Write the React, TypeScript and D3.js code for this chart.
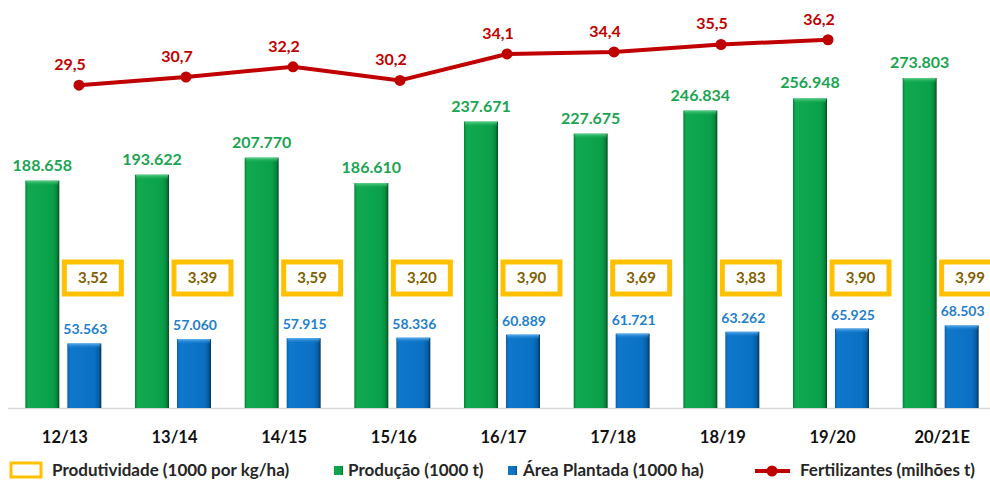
import React from "react";
import * as d3 from "d3";

const categories = ["12/13", "13/14", "14/15", "15/16", "16/17", "17/18", "18/19", "19/20", "20/21E"];
const producao = [188.658, 193.622, 207.77, 186.61, 237.671, 227.675, 246.834, 256.948, 273.803];
const area = [53.563, 57.06, 57.915, 58.336, 60.889, 61.721, 63.262, 65.925, 68.503];
const produtividade = [3.52, 3.39, 3.59, 3.2, 3.9, 3.69, 3.83, 3.9, 3.99];
const fertilizantes = [29.5, 30.7, 32.2, 30.2, 34.1, 34.4, 35.5, 36.2];

const W = 990;
const H = 482;
const FONT = "Lato, 'Open Sans', sans-serif";

const fmtThousand = (v: number) => v.toFixed(3);
const fmtComma1 = (v: number) => v.toFixed(1).replace(".", ",");
const fmtComma2 = (v: number) => v.toFixed(2).replace(".", ",");

export default function App() {
  const x = d3.scaleBand<string>().domain(categories).range([8, 995]).paddingInner(0).paddingOuter(0);
  const y = d3.scaleLinear().domain([0, 300]).range([408, 46.5]);
  const xLine = d3.scalePoint<string>().domain(categories.slice(0, fertilizantes.length)).range([79, 828]);
  const yLine = d3.scaleLinear().domain([0, 40]).range([285, 14]);
  const center = (c: string) => (x(c) as number) + x.bandwidth() / 2;

  const barW = 34;
  const lineGen = d3
    .line<number>()
    .x((_, i) => xLine(categories[i]) as number)
    .y((d) => yLine(d));

  const bar = (bx: number, v: number, grad: string, top: string) => {
    const y0 = y(v);
    const h = y(0) - y0;
    return (
      <g>
        <rect x={bx} y={y0} width={barW} height={h} fill={`url(#${grad})`} />
        <rect x={bx + 1} y={y0} width={barW - 2} height={5} fill={`url(#${top})`} />
      </g>
    );
  };

  return (
    <svg width={W} height={H} style={{ position: "absolute", left: 0, top: 0, background: "#fff" }}>
      <defs>
        <linearGradient id="gG" x1="0" x2="1" y1="0" y2="0">
          <stop offset="0%" stopColor="#0a7f3a" />
          <stop offset="8%" stopColor="#10aa50" />
          <stop offset="80%" stopColor="#0aa04a" />
          <stop offset="92%" stopColor="#078a3e" />
          <stop offset="100%" stopColor="#034d22" />
        </linearGradient>
        <linearGradient id="gGt" x1="0" x2="0" y1="0" y2="1">
          <stop offset="0%" stopColor="#5fd08c" />
          <stop offset="100%" stopColor="#10aa50" stopOpacity={0} />
        </linearGradient>
        <linearGradient id="gB" x1="0" x2="1" y1="0" y2="0">
          <stop offset="0%" stopColor="#0a5fa8" />
          <stop offset="8%" stopColor="#0f78cc" />
          <stop offset="80%" stopColor="#0a70c2" />
          <stop offset="92%" stopColor="#075da3" />
          <stop offset="100%" stopColor="#03355e" />
        </linearGradient>
        <linearGradient id="gBt" x1="0" x2="0" y1="0" y2="1">
          <stop offset="0%" stopColor="#5fb0f0" />
          <stop offset="100%" stopColor="#0f78cc" stopOpacity={0} />
        </linearGradient>
      </defs>

      <line x1={8} x2={990} y1={y(0) + 0.5} y2={y(0) + 0.5} stroke="#d9d9d9" strokeWidth={1.5} />

      {categories.map((c, i) => {
        const cx = center(c);
        const gx = cx - 37.5;
        const bx = cx + 4.5;
        return (
          <g key={c}>
            {bar(gx, producao[i], "gG", "gGt")}
            {bar(bx, area[i], "gB", "gBt")}
            <text
              x={gx + barW / 2}
              y={y(producao[i]) - 10}
              textAnchor="middle"
              fontFamily={FONT}
              fontWeight={700}
              fontSize={16}
              fill="#1aa452"
            >
              {fmtThousand(producao[i])}
            </text>
            <text
              x={bx + barW / 2 + 1}
              y={y(area[i]) - 9}
              textAnchor="middle"
              fontFamily={FONT}
              fontWeight={700}
              fontSize={14}
              fill="#1f80cc"
            >
              {fmtThousand(area[i])}
            </text>
            <rect x={cx + 1.5} y={262} width={57} height={32} fill="#fff" stroke="#ffc000" strokeWidth={5} />
            <text
              x={cx + 30}
              y={283}
              textAnchor="middle"
              fontFamily={FONT}
              fontWeight={700}
              fontSize={15}
              fill="#7f6000"
            >
              {fmtComma2(produtividade[i])}
            </text>
            <text
              x={cx + 2}
              y={443}
              textAnchor="middle"
              fontFamily={FONT}
              fontWeight={700}
              fontSize={16.5}
              fill="#111"
            >
              {c}
            </text>
          </g>
        );
      })}

      <path d={lineGen(fertilizantes) || ""} fill="none" stroke="#c00000" strokeWidth={4} strokeLinejoin="round" />
      {fertilizantes.map((v, i) => {
        const px = xLine(categories[i]) as number;
        const py = yLine(v);
        return (
          <g key={"f" + i}>
            <circle cx={px} cy={py} r={5.5} fill="#c00000" />
            <text
              x={px - 9}
              y={py - 15}
              textAnchor="middle"
              fontFamily={FONT}
              fontWeight={700}
              fontSize={16}
              fill="#c00000"
            >
              {fmtComma1(v)}
            </text>
          </g>
        );
      })}

      {/* Legend */}
      <g fontFamily={FONT} fontSize={17} fontWeight={700} fill="#262626">
        <rect x={11} y={463} width={30} height={14} fill="#fff" stroke="#ffc000" strokeWidth={3} />
        <text x={52} y={476}>Produtividade (1000 por kg/ha)</text>
        <rect x={334} y={466} width={9} height={9} fill="url(#gG)" />
        <text x={348} y={476}>Produção (1000 t)</text>
        <rect x={508} y={466} width={9} height={9} fill="url(#gB)" />
        <text x={523} y={476}>Área Plantada (1000 ha)</text>
        <line x1={755} x2={790} y1={471} y2={471} stroke="#c00000" strokeWidth={4} />
        <circle cx={772} cy={471} r={5.5} fill="#c00000" />
        <text x={800} y={476}>Fertilizantes (milhões t)</text>
      </g>
    </svg>
  );
}
